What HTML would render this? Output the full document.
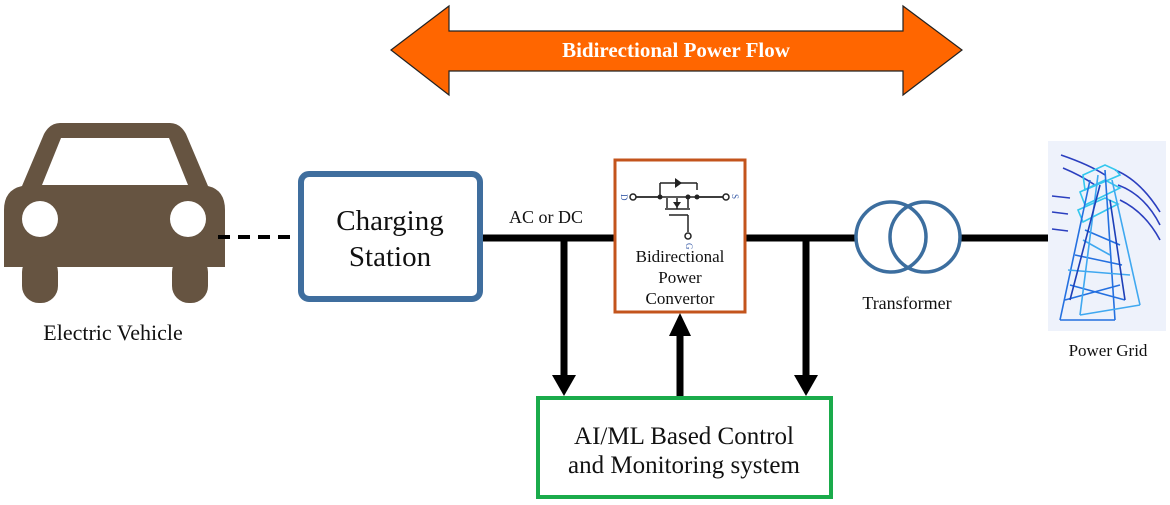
<!DOCTYPE html>
<html><head><meta charset="utf-8"><style>
html,body{margin:0;padding:0;background:#fff;}
svg{display:block;}
text{font-family:"Liberation Serif",serif;fill:#111;}
</style></head><body>
<svg width="1170" height="505" viewBox="0 0 1170 505" xmlns="http://www.w3.org/2000/svg">
<polygon points="391,50 449,6 449,31 903,31 903,6 962,50 903,95 903,71 449,71 449,95" fill="#ff6600" stroke="#222" stroke-width="1.2"/>
<text x="676" y="57" text-anchor="middle" font-size="21" font-weight="bold" style="fill:#fff">Bidirectional Power Flow</text>

<g fill="#665441">
<path d="M60,123 H170 Q180,123 186,134 L208,186 Q225,190 225,210 V267 H4 V210 Q4,190 22,186 L44,134 Q50,123 60,123 Z"/>
<rect x="22" y="255" width="36" height="48" rx="17"/>
<rect x="172" y="255" width="36" height="48" rx="17"/>
</g>
<polygon points="61,138 169,138 188,185 42,185" fill="#fff"/>
<circle cx="40" cy="219" r="18" fill="#fff"/>
<circle cx="188" cy="219" r="18" fill="#fff"/>
<text x="113" y="340" text-anchor="middle" font-size="22">Electric Vehicle</text>

<line x1="218" y1="237" x2="296" y2="237" stroke="#000" stroke-width="4" stroke-dasharray="12,8"/>

<rect x="301" y="174" width="179" height="125" rx="8" fill="#fff" stroke="#3f6e9e" stroke-width="6"/>
<text x="390" y="230" text-anchor="middle" font-size="29">Charging</text>
<text x="390" y="266" text-anchor="middle" font-size="29">Station</text>

<line x1="483" y1="238" x2="614" y2="238" stroke="#000" stroke-width="7"/>
<line x1="746" y1="238" x2="856" y2="238" stroke="#000" stroke-width="7"/>
<line x1="961" y1="238" x2="1050" y2="238" stroke="#000" stroke-width="7"/>
<text x="546" y="223" text-anchor="middle" font-size="18">AC or DC</text>

<line x1="564" y1="238" x2="564" y2="377" stroke="#000" stroke-width="7"/>
<polygon points="552,375 576,375 564,396" fill="#000"/>
<line x1="806" y1="238" x2="806" y2="377" stroke="#000" stroke-width="7"/>
<polygon points="794,375 818,375 806,396" fill="#000"/>
<line x1="680" y1="396" x2="680" y2="333" stroke="#000" stroke-width="7"/>
<polygon points="669,336 691,336 680,313" fill="#000"/>

<rect x="615" y="160" width="130" height="152" fill="#fff" stroke="#c3541c" stroke-width="3"/>
<g stroke="#222" stroke-width="1.5" fill="none">
<circle cx="633" cy="197" r="3" fill="#fff"/>
<line x1="636" y1="197" x2="723" y2="197"/>
<line x1="660" y1="197" x2="660" y2="183"/>
<line x1="660" y1="183" x2="697" y2="183"/>
<line x1="697" y1="183" x2="697" y2="197"/>
<line x1="667" y1="197" x2="667" y2="208"/>
<line x1="665" y1="209" x2="690" y2="209"/>
<line x1="669" y1="215" x2="688" y2="215"/>
<line x1="688" y1="215" x2="688" y2="232"/>
<circle cx="688" cy="236" r="3" fill="#fff"/>
<line x1="677" y1="209" x2="677" y2="197"/>
<line x1="688" y1="197" x2="688" y2="208"/>
<circle cx="726" cy="197" r="3" fill="#fff"/>
</g>
<rect x="661" y="190" width="37" height="8" fill="#fff"/>
<line x1="636" y1="197" x2="723" y2="197" stroke="#222" stroke-width="1.5"/>
<polygon points="675,178 675,188 682,183" fill="#222"/>
<polygon points="673,202 681,202 677,208" fill="#222"/>
<circle cx="660" cy="197" r="2.5" fill="#222"/><circle cx="688" cy="197" r="2.5" fill="#222"/><circle cx="697" cy="197" r="2.5" fill="#222"/>
<text x="621" y="194" font-size="9" style="fill:#3a5da8" transform="rotate(90 621 194)">D</text>
<text x="732" y="194" font-size="9" style="fill:#3a5da8" transform="rotate(90 732 194)">S</text>
<text x="686" y="243" font-size="9" style="fill:#3a5da8" transform="rotate(90 686 243)">G</text>
<text x="680" y="262" text-anchor="middle" font-size="17">Bidirectional</text>
<text x="680" y="283" text-anchor="middle" font-size="17">Power</text>
<text x="680" y="304" text-anchor="middle" font-size="17">Convertor</text>

<circle cx="891" cy="237" r="35" fill="none" stroke="#3c6e9f" stroke-width="3.5"/>
<circle cx="925" cy="237" r="35" fill="none" stroke="#3c6e9f" stroke-width="3.5"/>
<text x="907" y="309" text-anchor="middle" font-size="18">Transformer</text>

<rect x="1048" y="141" width="118" height="190" fill="#eef2fb"/>
<g fill="none" stroke-width="1.6">
<path d="M1061,155 Q1090,165 1105,175" stroke="#2b3fbf"/>
<path d="M1063,168 Q1080,175 1095,185" stroke="#2b3fbf"/>
<path d="M1115,170 Q1140,180 1160,212" stroke="#2b3fbf"/>
<path d="M1118,185 Q1145,195 1160,225" stroke="#2b3fbf"/>
<path d="M1120,200 Q1145,212 1160,240" stroke="#2b3fbf"/>
<path d="M1052,196 L1070,198 M1052,212 L1068,214 M1052,229 L1068,231" stroke="#2b3fbf"/>
<path d="M1083,175 L1105,165 L1116,170 L1120,175 L1085,190 Z M1080,192 L1105,180 L1120,188 L1085,205 Z M1078,210 L1105,198 L1118,204 L1083,222 Z" stroke="#33c7ee"/>
<path d="M1090,180 L1060,320 M1105,170 L1115,320 M1060,320 L1115,320 M1070,285 L1125,300 M1065,300 L1120,285 M1085,230 L1120,245 M1075,255 L1122,265" stroke="#2470e0"/>
<path d="M1098,175 L1080,315 M1112,180 L1140,305 M1080,315 L1140,305 M1068,270 L1130,275 M1083,240 L1110,255" stroke="#3fa8f0"/>
<path d="M1100,185 L1070,300 M1110,200 L1125,300" stroke="#1d3fb8"/>
</g>
<text x="1108" y="356" text-anchor="middle" font-size="17">Power Grid</text>

<rect x="538" y="398" width="293" height="99" fill="#fff" stroke="#1aab4b" stroke-width="4"/>
<text x="684" y="444" text-anchor="middle" font-size="25">AI/ML Based Control</text>
<text x="684" y="473" text-anchor="middle" font-size="25">and Monitoring system</text>
</svg>
</body></html>
